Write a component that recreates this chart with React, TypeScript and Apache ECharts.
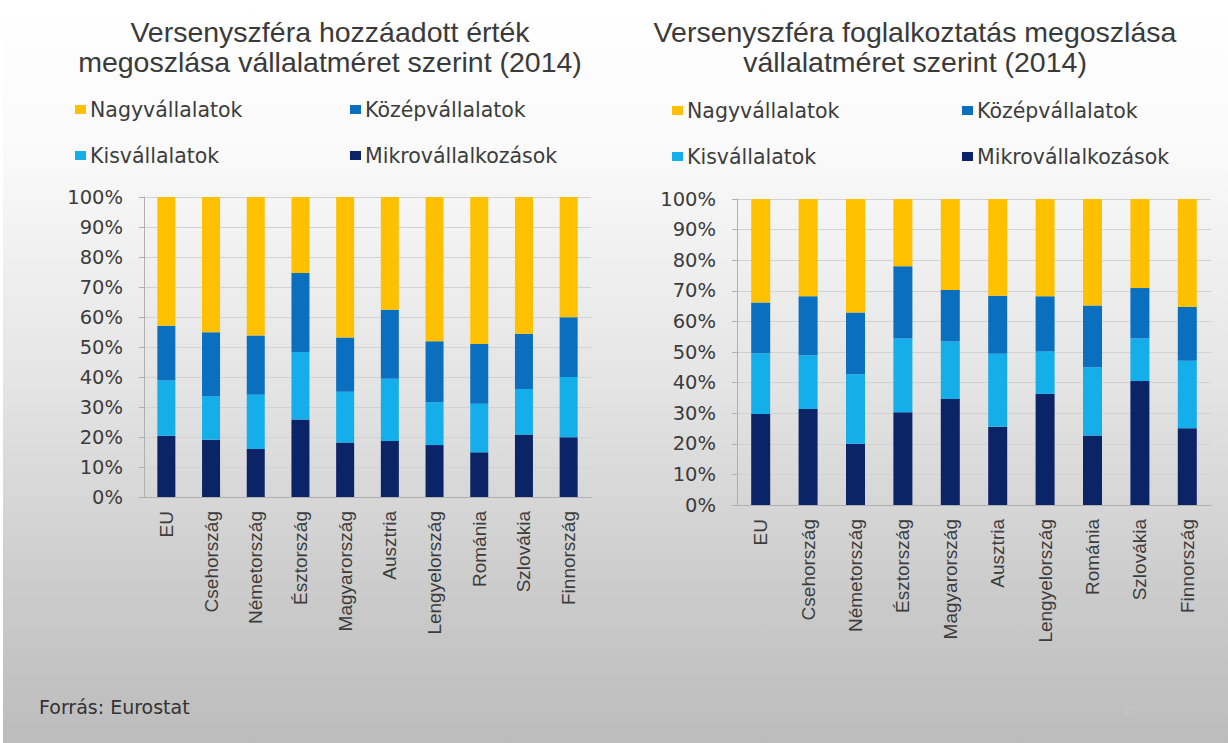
import React, { useEffect, useRef } from "react";
import * as echarts from "echarts";

const categories = [
  "EU",
  "Csehország",
  "Németország",
  "Észtország",
  "Magyarország",
  "Ausztria",
  "Lengyelország",
  "Románia",
  "Szlovákia",
  "Finnország",
];

const yTicks = [0, 10, 20, 30, 40, 50, 60, 70, 80, 90, 100];

// Left chart: value added share (%)
const vaMikro = [20.4, 19.1, 16.0, 25.8, 18.2, 18.7, 17.3, 14.9, 20.8, 19.9];
const vaKis = [18.4, 14.5, 18.1, 22.5, 16.9, 20.7, 14.3, 16.2, 15.2, 20.1];
const vaKozep = [18.3, 21.3, 19.7, 26.4, 18.1, 23.0, 20.3, 19.9, 18.4, 19.9];
const vaNagy = [42.9, 45.1, 46.2, 25.3, 46.8, 37.6, 48.1, 49.0, 45.6, 40.1];

// Right chart: employment share (%)
const emMikro = [29.7, 31.4, 20.0, 30.3, 34.6, 25.6, 36.3, 22.7, 40.5, 25.1];
const emKis = [19.9, 17.5, 22.7, 24.1, 18.8, 23.8, 13.9, 22.3, 14.0, 22.0];
const emKozep = [16.6, 19.3, 20.2, 23.6, 16.9, 19.0, 18.0, 20.2, 16.4, 17.6];
const emNagy = [33.8, 31.8, 37.1, 22.0, 29.7, 31.6, 31.8, 34.8, 29.1, 35.3];

const names = {
  nagy: "Nagyvállalatok",
  kozep: "Középvállalatok",
  kis: "Kisvállalatok",
  mikro: "Mikrovállalkozások",
};

const colors = {
  nagy: "#FFC000",
  kozep: "#0A6FBF",
  kis: "#14AEEA",
  mikro: "#0B2468",
};

const titleLeft = "Versenyszféra hozzáadott érték\nmegoszlása vállalatméret szerint (2014)";
const titleRight = "Versenyszféra foglalkoztatás megoszlása\nvállalatméret szerint (2014)";
const sourceText = "Forrás: Eurostat";

export default function App() {
  const ref = useRef<HTMLDivElement>(null);

  useEffect(() => {
    document.body.style.margin = "0";
    if (!ref.current) return;
    const chart = echarts.init(ref.current, null, { renderer: "svg" });

    const textColor = "#3c3c3c";

    const makeXAxis = (gridIndex: number, margin: number) => ({
      type: "category",
      gridIndex,
      data: categories,
      axisLine: { show: true, lineStyle: { color: "#b0b0b0", width: 1 } },
      axisTick: { show: false },
      axisLabel: {
        rotate: 90,
        interval: 0,
        margin,
        fontSize: 19,
        fontFamily: "Liberation Sans, Arial, sans-serif",
        color: textColor,
      },
    });

    const makeYAxis = (gridIndex: number) => ({
      type: "value",
      gridIndex,
      min: yTicks[0],
      max: yTicks[yTicks.length - 1],
      interval: yTicks[1] - yTicks[0],
      axisLine: { show: true, lineStyle: { color: "#b0b0b0", width: 1 } },
      axisTick: { show: true, length: 5, lineStyle: { color: "#b0b0b0" } },
      splitLine: { show: true, lineStyle: { color: "#d2d2d2", width: 1 } },
      axisLabel: {
        formatter: "{value}%",
        margin: 21,
        fontSize: 19.5,
        fontFamily: "DejaVu Sans, sans-serif",
        color: textColor,
      },
    });

    const bar = (name: string, data: number[], color: string, idx: number, width: number) => ({
      name,
      type: "bar",
      stack: "s" + idx,
      xAxisIndex: idx,
      yAxisIndex: idx,
      data,
      barWidth: width,
      itemStyle: { color },
      emphasis: { disabled: true },
    });

    const legendItem = (name: string, left: number, cy: number) => ({
      data: [name],
      left,
      top: cy - 11,
      padding: 0,
      icon: "rect",
      itemWidth: 11,
      itemHeight: 9,
      itemGap: 0,
      selectedMode: false,
      textStyle: {
        fontSize: 20.5,
        fontFamily: "DejaVu Sans, sans-serif",
        color: textColor,
        padding: [0, 0, 0, -1],
      },
    });

    const titleCommon = {
      top: 17,
      padding: 0,
      textAlign: "center",
      textStyle: {
        fontSize: 28.5,
        lineHeight: 30,
        fontWeight: "normal",
        fontFamily: "Liberation Sans, Arial, sans-serif",
        color: "#3a3a3a",
      },
    };

    chart.setOption({
      animation: false,
      backgroundColor: "transparent",
      title: [
        { ...titleCommon, text: titleLeft, left: 330 },
        { ...titleCommon, text: titleRight, left: 915 },
      ],
      legend: [
        legendItem(names.nagy, 75, 110),
        legendItem(names.kozep, 350, 110),
        legendItem(names.kis, 75, 156),
        legendItem(names.mikro, 350, 156),
        legendItem(names.nagy, 672, 111),
        legendItem(names.kozep, 962, 111),
        legendItem(names.kis, 672, 157),
        legendItem(names.mikro, 962, 157),
      ],
      grid: [
        { left: 144, top: 197, width: 447, height: 300 },
        { left: 737, top: 199, width: 474, height: 306 },
      ],
      xAxis: [makeXAxis(0, 14), makeXAxis(1, 14)],
      yAxis: [makeYAxis(0), makeYAxis(1)],
      series: [
        bar(names.mikro, vaMikro, colors.mikro, 0, 18),
        bar(names.kis, vaKis, colors.kis, 0, 18),
        bar(names.kozep, vaKozep, colors.kozep, 0, 18),
        bar(names.nagy, vaNagy, colors.nagy, 0, 18),
        bar(names.mikro, emMikro, colors.mikro, 1, 19),
        bar(names.kis, emKis, colors.kis, 1, 19),
        bar(names.kozep, emKozep, colors.kozep, 1, 19),
        bar(names.nagy, emNagy, colors.nagy, 1, 19),
      ],
      graphic: [
        {
          type: "text",
          left: 39,
          top: 697,
          style: {
            text: sourceText,
            fontSize: 19,
            fontFamily: "DejaVu Sans, sans-serif",
            fill: "#333333",
          },
        },
        {
          type: "text",
          left: 1124,
          top: 706,
          style: {
            text: "25",
            fontSize: 9,
            fontFamily: "DejaVu Sans, sans-serif",
            fill: "#c9c9c9",
          },
        },
      ],
    });

    return () => chart.dispose();
  }, []);

  return (
    <div
      style={{
        width: 1228,
        height: 743,
        position: "relative",
        background:
          "linear-gradient(to bottom, #ffffff 0%, #fafafa 20%, #e4e4e4 52%, #cbcbcb 80%, #bcbcbc 100%)",
        borderLeft: "3px solid #ffffff",
        boxSizing: "border-box",
      }}
    >
      <div ref={ref} style={{ width: 1225, height: 743, position: "absolute", left: -3, top: 0 }} />
    </div>
  );
}
